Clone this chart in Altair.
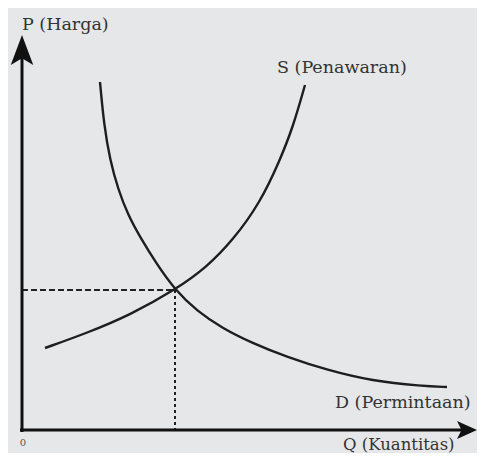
import altair as alt
import pandas as pd

# Demand curve D (Permintaan): quantity, price
demand_q = [78, 82, 88, 96, 106, 118, 134, 153, 175, 200, 230, 265, 305, 350, 400, 425]
demand_p = [348, 305, 270, 241, 215, 193, 167, 140, 119, 102, 87, 73, 60, 49, 44, 43]

# Supply curve S (Penawaran): quantity, price
supply_q = [23, 65, 108, 153, 185, 211, 238, 258, 271, 283]
supply_p = [82, 97, 115, 140, 163, 190, 227, 270, 303, 345]

# Equilibrium
eq_q = 153
eq_p = 140

# Axis extents
axis_q_max = 450
axis_p_max = 385

labels = ["P (Harga)", "S (Penawaran)", "D (Permintaan)"]
label_q = [0, 255, 313]
label_p = [405, 362, 27]

X = alt.Scale(domain=[-14, 455], nice=False, zero=False)
Y = alt.Scale(domain=[-23, 422], nice=False, zero=False)

curves = pd.DataFrame(
    {"q": demand_q + supply_q,
     "p": demand_p + supply_p,
     "curve": ["D"] * len(demand_q) + ["S"] * len(supply_q)}
)

lines = alt.Chart(curves).mark_line(
    color="#1e1e1e", strokeWidth=2.4, interpolate="basis"
).encode(
    x=alt.X("q:Q", scale=X, axis=None),
    y=alt.Y("p:Q", scale=Y, axis=None),
    detail="curve:N",
)

eq = pd.DataFrame({"q": [eq_q], "p": [eq_p], "zero": [0]})
hdash = alt.Chart(eq).mark_rule(color="#222", strokeWidth=2, strokeDash=[6, 3]).encode(
    x=alt.X("zero:Q", scale=X, axis=None), x2="q:Q",
    y=alt.Y("p:Q", scale=Y, axis=None),
)
vdash = alt.Chart(eq).mark_rule(color="#222", strokeWidth=2, strokeDash=[3, 3]).encode(
    x=alt.X("q:Q", scale=X, axis=None),
    y=alt.Y("p:Q", scale=Y, axis=None), y2="zero:Q",
)

axes_df = pd.DataFrame({"x1": [-2, 0], "x2": [axis_q_max, 0],
                        "y1": [0, -2], "y2": [0, axis_p_max]})
axes = alt.Chart(axes_df).mark_rule(color="#111", strokeWidth=3).encode(
    x=alt.X("x1:Q", scale=X, axis=None), x2="x2:Q",
    y=alt.Y("y1:Q", scale=Y, axis=None), y2="y2:Q",
)

up_arrow = alt.Chart(pd.DataFrame({"q": [0], "p": [380]})).mark_point(
    shape="M0,-1L0.75,1L0,0.55L-0.75,1Z", size=900, filled=True,
    color="#111", opacity=1,
).encode(x=alt.X("q:Q", scale=X, axis=None), y=alt.Y("p:Q", scale=Y, axis=None))

right_arrow = alt.Chart(pd.DataFrame({"q": [445], "p": [0]})).mark_point(
    shape="M1,0L-1,0.9L-0.55,0L-1,-0.9Z", size=400, filled=True,
    color="#111", opacity=1,
).encode(x=alt.X("q:Q", scale=X, axis=None), y=alt.Y("p:Q", scale=Y, axis=None))

lab_df = pd.DataFrame({"t": labels, "q": label_q, "p": label_p})
texts = alt.Chart(lab_df).mark_text(
    align="left", baseline="middle", font="DejaVu Serif", fontSize=17.5,
    color="#333",
).encode(
    x=alt.X("q:Q", scale=X, axis=None),
    y=alt.Y("p:Q", scale=Y, axis=None),
    text="t:N",
)

q_label = alt.Chart(pd.DataFrame({"t": ["Q (Kuantitas)"], "q": [321], "p": [-20]})).mark_text(
    align="left", baseline="alphabetic", font="DejaVu Serif", fontSize=16.5,
    color="#333",
).encode(
    x=alt.X("q:Q", scale=X, axis=None),
    y=alt.Y("p:Q", scale=Y, axis=None),
    text="t:N",
)

zero_txt = alt.Chart(pd.DataFrame({"t": ["0"], "q": [1], "p": [-13]})).mark_text(
    align="center", baseline="middle", font="DejaVu Serif", fontSize=10, color="#555",
).encode(
    x=alt.X("q:Q", scale=X, axis=None),
    y=alt.Y("p:Q", scale=Y, axis=None),
    text="t:N",
)

chart = alt.layer(hdash, vdash, lines, axes, up_arrow, right_arrow, texts, q_label, zero_txt).properties(
    width=469, height=445,
    autosize=alt.AutoSizeParams(type="none"),
    padding=0,
    background="#e6e7e9",
).configure_view(stroke=None)

chart.save("out.html", embed_options={"renderer": "svg", "actions": False})
